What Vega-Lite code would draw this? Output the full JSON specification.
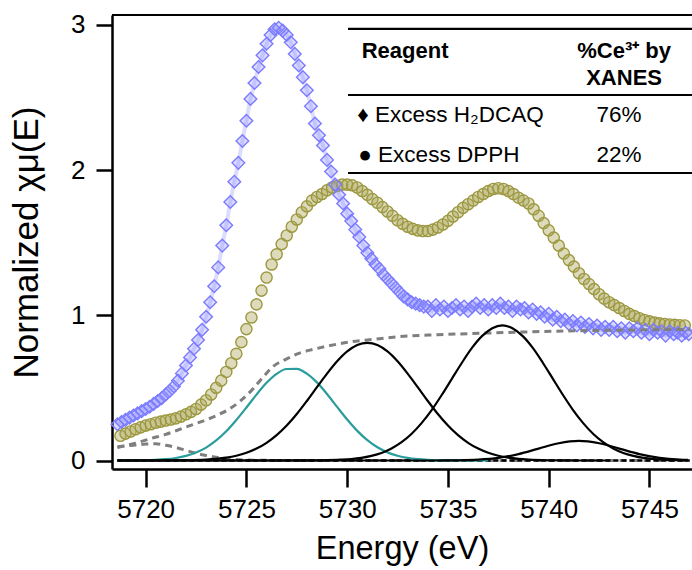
{
"$schema": "https://vega.github.io/schema/vega-lite/v6.json",
"width": 580, "height": 454,
"autosize": {"type": "none"},
"padding": {"left": 112, "top": 15, "right": 0, "bottom": 101},
"background": "white",
"config": {"view": {"stroke": null}, "font": "Liberation Sans"},
"datasets": {
"blue": [
{"E":5718.6,"v":0.25},{"E":5718.8,"v":0.265},{"E":5719.0,"v":0.28},{"E":5719.2,"v":0.295},{"E":5719.4,"v":0.31},{"E":5719.6,"v":0.325},{"E":5719.8,"v":0.34},{"E":5720.0,"v":0.355},{"E":5720.2,"v":0.37},{"E":5720.4,"v":0.39},{"E":5720.6,"v":0.41},{"E":5720.8,"v":0.43},{"E":5721.0,"v":0.455},{"E":5721.2,"v":0.48},{"E":5721.4,"v":0.51},{"E":5721.6,"v":0.55},{"E":5721.8,"v":0.60},{"E":5722.0,"v":0.655},{"E":5722.2,"v":0.71},{"E":5722.4,"v":0.77},{"E":5722.6,"v":0.83},{"E":5722.8,"v":0.90},{"E":5723.0,"v":0.99},{"E":5723.2,"v":1.09},{"E":5723.4,"v":1.20},{"E":5723.6,"v":1.33},{"E":5723.8,"v":1.48},{"E":5724.0,"v":1.62},{"E":5724.2,"v":1.78},{"E":5724.4,"v":1.92},{"E":5724.6,"v":2.05},{"E":5724.8,"v":2.20},{"E":5725.0,"v":2.34},{"E":5725.2,"v":2.49},{"E":5725.4,"v":2.60},{"E":5725.6,"v":2.71},{"E":5725.8,"v":2.79},{"E":5726.0,"v":2.87},{"E":5726.2,"v":2.93},{"E":5726.4,"v":2.97},{"E":5726.6,"v":2.98},{"E":5726.8,"v":2.96},{"E":5727.0,"v":2.93},{"E":5727.2,"v":2.88},{"E":5727.4,"v":2.80},{"E":5727.6,"v":2.72},{"E":5727.8,"v":2.64},{"E":5728.0,"v":2.55},{"E":5728.2,"v":2.44},{"E":5728.4,"v":2.32},{"E":5728.6,"v":2.24},{"E":5728.8,"v":2.17},{"E":5729.0,"v":2.07},{"E":5729.2,"v":1.99},{"E":5729.4,"v":1.90},{"E":5729.6,"v":1.83},{"E":5729.8,"v":1.77},{"E":5730.0,"v":1.70},{"E":5730.2,"v":1.65},{"E":5730.4,"v":1.59},{"E":5730.6,"v":1.54},{"E":5730.8,"v":1.48},{"E":5731.0,"v":1.43},{"E":5731.2,"v":1.39},{"E":5731.4,"v":1.35},{"E":5731.6,"v":1.32},{"E":5731.8,"v":1.28},{"E":5732.0,"v":1.25},{"E":5732.2,"v":1.22},{"E":5732.4,"v":1.19},{"E":5732.6,"v":1.16},{"E":5732.8,"v":1.13},{"E":5733.0,"v":1.11},{"E":5733.2,"v":1.09},{"E":5733.4,"v":1.08},{"E":5733.6,"v":1.07},{"E":5733.8,"v":1.06},
{"E":5734.0,"v":1.06},{"E":5734.2,"v":1.03},{"E":5734.4,"v":1.07},{"E":5734.6,"v":1.04},{"E":5734.8,"v":1.06},{"E":5735.0,"v":1.03},{"E":5735.2,"v":1.05},{"E":5735.4,"v":1.07},{"E":5735.6,"v":1.04},{"E":5735.8,"v":1.06},{"E":5736.0,"v":1.03},{"E":5736.2,"v":1.06},{"E":5736.4,"v":1.08},{"E":5736.6,"v":1.05},{"E":5736.8,"v":1.07},{"E":5737.0,"v":1.04},{"E":5737.2,"v":1.07},{"E":5737.4,"v":1.05},{"E":5737.6,"v":1.08},{"E":5737.8,"v":1.05},{"E":5738.0,"v":1.06},{"E":5738.2,"v":1.03},{"E":5738.4,"v":1.06},{"E":5738.6,"v":1.04},{"E":5738.8,"v":1.05},{"E":5739.0,"v":1.02},{"E":5739.2,"v":1.04},{"E":5739.4,"v":1.01},{"E":5739.6,"v":1.02},{"E":5739.8,"v":0.99},{"E":5740.0,"v":1.01},{"E":5740.2,"v":0.97},{"E":5740.4,"v":0.99},{"E":5740.6,"v":0.96},{"E":5740.8,"v":0.97},{"E":5741.0,"v":0.94},{"E":5741.2,"v":0.96},{"E":5741.4,"v":0.93},{"E":5741.6,"v":0.95},{"E":5741.8,"v":0.92},{"E":5742.0,"v":0.94},{"E":5742.2,"v":0.91},{"E":5742.4,"v":0.93},{"E":5742.6,"v":0.90},{"E":5742.8,"v":0.92},{"E":5743.0,"v":0.90},{"E":5743.2,"v":0.92},{"E":5743.4,"v":0.89},{"E":5743.6,"v":0.91},{"E":5743.8,"v":0.88},{"E":5744.0,"v":0.91},{"E":5744.2,"v":0.89},{"E":5744.4,"v":0.91},{"E":5744.6,"v":0.88},{"E":5744.8,"v":0.90},{"E":5745.0,"v":0.87},{"E":5745.2,"v":0.90},{"E":5745.4,"v":0.88},{"E":5745.6,"v":0.89},{"E":5745.8,"v":0.86},{"E":5746.0,"v":0.89},{"E":5746.2,"v":0.87},{"E":5746.4,"v":0.88},{"E":5746.6,"v":0.86},{"E":5746.8,"v":0.88},{"E":5746.95,"v":0.87}
],
"olive": [
{"E":5718.75,"v":0.17},{"E":5719.0,"v":0.185},{"E":5719.25,"v":0.2},{"E":5719.5,"v":0.215},{"E":5719.75,"v":0.228},{"E":5720.0,"v":0.24},{"E":5720.25,"v":0.25},{"E":5720.5,"v":0.26},{"E":5720.75,"v":0.268},{"E":5721.0,"v":0.275},{"E":5721.25,"v":0.282},{"E":5721.5,"v":0.29},{"E":5721.75,"v":0.302},{"E":5722.0,"v":0.318},{"E":5722.25,"v":0.335},{"E":5722.5,"v":0.355},{"E":5722.75,"v":0.385},{"E":5723.0,"v":0.415},{"E":5723.25,"v":0.455},{"E":5723.5,"v":0.5},{"E":5723.75,"v":0.55},{"E":5724.0,"v":0.61},{"E":5724.25,"v":0.67},{"E":5724.5,"v":0.735},{"E":5724.75,"v":0.815},{"E":5725.0,"v":0.905},{"E":5725.25,"v":0.985},{"E":5725.5,"v":1.075},{"E":5725.75,"v":1.17},{"E":5726.0,"v":1.26},{"E":5726.25,"v":1.35},{"E":5726.5,"v":1.42},{"E":5726.75,"v":1.49},{"E":5727.0,"v":1.55},{"E":5727.25,"v":1.61},{"E":5727.5,"v":1.66},{"E":5727.75,"v":1.71},{"E":5728.0,"v":1.75},{"E":5728.25,"v":1.79},{"E":5728.5,"v":1.815},{"E":5728.75,"v":1.835},{"E":5729.0,"v":1.86},{"E":5729.25,"v":1.88},{"E":5729.5,"v":1.89},{"E":5729.75,"v":1.9},{"E":5730.0,"v":1.9},{"E":5730.25,"v":1.895},{"E":5730.5,"v":1.88},{"E":5730.75,"v":1.855},{"E":5731.0,"v":1.83},{"E":5731.25,"v":1.8},{"E":5731.5,"v":1.775},{"E":5731.75,"v":1.745},{"E":5732.0,"v":1.715},{"E":5732.25,"v":1.685},{"E":5732.5,"v":1.655},{"E":5732.75,"v":1.63},{"E":5733.0,"v":1.61},{"E":5733.25,"v":1.595},{"E":5733.5,"v":1.585},{"E":5733.75,"v":1.58},{"E":5734.0,"v":1.58},{"E":5734.25,"v":1.59},{"E":5734.5,"v":1.605},{"E":5734.75,"v":1.625},{"E":5735.0,"v":1.65},{"E":5735.25,"v":1.68},{"E":5735.5,"v":1.71},{"E":5735.75,"v":1.74},{"E":5736.0,"v":1.765},{"E":5736.25,"v":1.79},{"E":5736.5,"v":1.815},{"E":5736.75,"v":1.835},{"E":5737.0,"v":1.855},{"E":5737.25,"v":1.87},{"E":5737.5,"v":1.875},{"E":5737.75,"v":1.87},{"E":5738.0,"v":1.855},{"E":5738.25,"v":1.835},{"E":5738.5,"v":1.81},{"E":5738.75,"v":1.79},{"E":5739.0,"v":1.77},{"E":5739.25,"v":1.73},{"E":5739.5,"v":1.685},{"E":5739.75,"v":1.635},{"E":5740.0,"v":1.585},{"E":5740.25,"v":1.535},{"E":5740.5,"v":1.48},{"E":5740.75,"v":1.425},{"E":5741.0,"v":1.38},{"E":5741.25,"v":1.335},{"E":5741.5,"v":1.29},{"E":5741.75,"v":1.25},{"E":5742.0,"v":1.215},{"E":5742.25,"v":1.18},{"E":5742.5,"v":1.145},{"E":5742.75,"v":1.115},{"E":5743.0,"v":1.09},{"E":5743.25,"v":1.07},{"E":5743.5,"v":1.05},{"E":5743.75,"v":1.03},{"E":5744.0,"v":1.01},{"E":5744.25,"v":0.995},{"E":5744.5,"v":0.98},{"E":5744.75,"v":0.968},{"E":5745.0,"v":0.958},{"E":5745.25,"v":0.95},{"E":5745.5,"v":0.945},{"E":5745.75,"v":0.94},{"E":5746.0,"v":0.937},{"E":5746.25,"v":0.934},{"E":5746.5,"v":0.932},{"E":5746.75,"v":0.93}
],
"fits": [
{"c":"step","E":5718.6,"v":0.09},{"c":"step","E":5719.5,"v":0.12},{"c":"step","E":5720.3,"v":0.153},{"c":"step","E":5721.0,"v":0.18},{"c":"step","E":5721.6,"v":0.21},{"c":"step","E":5722.3,"v":0.245},{"c":"step","E":5723.0,"v":0.28},{"c":"step","E":5723.6,"v":0.315},{"c":"step","E":5724.1,"v":0.35},{"c":"step","E":5724.7,"v":0.41},{"c":"step","E":5725.3,"v":0.49},{"c":"step","E":5725.8,"v":0.57},{"c":"step","E":5726.3,"v":0.645},{"c":"step","E":5727.0,"v":0.7},{"c":"step","E":5727.6,"v":0.738},{"c":"step","E":5728.3,"v":0.765},{"c":"step","E":5728.9,"v":0.784},{"c":"step","E":5730.2,"v":0.818},{"c":"step","E":5731.0,"v":0.83},{"c":"step","E":5732.6,"v":0.853},{"c":"step","E":5734.5,"v":0.866},{"c":"step","E":5736.5,"v":0.876},{"c":"step","E":5739.0,"v":0.886},{"c":"step","E":5742.0,"v":0.895},{"c":"step","E":5745.0,"v":0.9},{"c":"step","E":5747.0,"v":0.903},
{"c":"pre","E":5718.6,"v":0.095},{"c":"pre","E":5719.0,"v":0.1},{"c":"pre","E":5719.5,"v":0.107},{"c":"pre","E":5720.0,"v":0.113},{"c":"pre","E":5720.5,"v":0.115},{"c":"pre","E":5721.0,"v":0.105},{"c":"pre","E":5721.5,"v":0.09},{"c":"pre","E":5722.0,"v":0.07},{"c":"pre","E":5722.5,"v":0.05},{"c":"pre","E":5723.0,"v":0.035},{"c":"pre","E":5723.5,"v":0.022},{"c":"pre","E":5724.0,"v":0.013},{"c":"pre","E":5724.5,"v":0.007},{"c":"pre","E":5725.0,"v":0.003},{"c":"pre","E":5726.0,"v":0.001},{"c":"pre","E":5727.0,"v":0},{"c":"pre","E":5747.0,"v":0},
{"c":"base","E":5718.6,"v":0},{"c":"base","E":5747.0,"v":0},
{"c":"teal","E":5718.6,"v":0.0002},{"c":"teal","E":5719.5,"v":0.001},{"c":"teal","E":5720.0,"v":0.002},{"c":"teal","E":5720.5,"v":0.0045},{"c":"teal","E":5721.0,"v":0.009},{"c":"teal","E":5721.5,"v":0.0175},{"c":"teal","E":5722.0,"v":0.032},{"c":"teal","E":5722.5,"v":0.055},{"c":"teal","E":5723.0,"v":0.089},{"c":"teal","E":5723.5,"v":0.138},{"c":"teal","E":5724.0,"v":0.201},{"c":"teal","E":5724.5,"v":0.279},{"c":"teal","E":5725.0,"v":0.365},{"c":"teal","E":5725.5,"v":0.454},{"c":"teal","E":5726.0,"v":0.535},{"c":"teal","E":5726.5,"v":0.597},{"c":"teal","E":5727.0,"v":0.63},{"c":"teal","E":5727.5,"v":0.631},{"c":"teal","E":5728.0,"v":0.598},{"c":"teal","E":5728.5,"v":0.538},{"c":"teal","E":5729.0,"v":0.458},{"c":"teal","E":5729.5,"v":0.369},{"c":"teal","E":5730.0,"v":0.282},{"c":"teal","E":5730.5,"v":0.204},{"c":"teal","E":5731.0,"v":0.14},{"c":"teal","E":5731.5,"v":0.091},{"c":"teal","E":5732.0,"v":0.056},{"c":"teal","E":5732.5,"v":0.033},{"c":"teal","E":5733.0,"v":0.018},{"c":"teal","E":5733.5,"v":0.0094},{"c":"teal","E":5734.0,"v":0.0047},{"c":"teal","E":5735.0,"v":0.001},{"c":"teal","E":5736.0,"v":0.0002},{"c":"teal","E":5737.0,"v":0},
{"c":"g1","E":5718.6,"v":0},{"c":"g1","E":5720.0,"v":0.0001},{"c":"g1","E":5721.0,"v":0.0004},{"c":"g1","E":5722.0,"v":0.0018},{"c":"g1","E":5723.0,"v":0.0064},{"c":"g1","E":5723.5,"v":0.0115},{"c":"g1","E":5724.0,"v":0.0199},{"c":"g1","E":5724.5,"v":0.033},{"c":"g1","E":5725.0,"v":0.053},{"c":"g1","E":5725.5,"v":0.082},{"c":"g1","E":5726.0,"v":0.122},{"c":"g1","E":5726.5,"v":0.175},{"c":"g1","E":5727.0,"v":0.241},{"c":"g1","E":5727.5,"v":0.32},{"c":"g1","E":5728.0,"v":0.41},{"c":"g1","E":5728.5,"v":0.505},{"c":"g1","E":5729.0,"v":0.598},{"c":"g1","E":5729.5,"v":0.683},{"c":"g1","E":5730.0,"v":0.751},{"c":"g1","E":5730.5,"v":0.795},{"c":"g1","E":5731.0,"v":0.81},{"c":"g1","E":5731.5,"v":0.795},{"c":"g1","E":5732.0,"v":0.751},{"c":"g1","E":5732.5,"v":0.683},{"c":"g1","E":5733.0,"v":0.598},{"c":"g1","E":5733.5,"v":0.505},{"c":"g1","E":5734.0,"v":0.41},{"c":"g1","E":5734.5,"v":0.32},{"c":"g1","E":5735.0,"v":0.241},{"c":"g1","E":5735.5,"v":0.175},{"c":"g1","E":5736.0,"v":0.122},{"c":"g1","E":5736.5,"v":0.082},{"c":"g1","E":5737.0,"v":0.053},{"c":"g1","E":5737.5,"v":0.033},{"c":"g1","E":5738.0,"v":0.0199},{"c":"g1","E":5738.5,"v":0.0115},{"c":"g1","E":5739.0,"v":0.0064},{"c":"g1","E":5740.0,"v":0.0018},{"c":"g1","E":5741.0,"v":0.0004},{"c":"g1","E":5742.0,"v":0.0001},{"c":"g1","E":5743.0,"v":0},
{"c":"g2","E":5718.6,"v":0},{"c":"g2","E":5726.0,"v":0},{"c":"g2","E":5727.7,"v":0.0003},{"c":"g2","E":5728.7,"v":0.0014},{"c":"g2","E":5729.7,"v":0.0056},{"c":"g2","E":5730.2,"v":0.01},{"c":"g2","E":5730.7,"v":0.018},{"c":"g2","E":5731.2,"v":0.032},{"c":"g2","E":5731.7,"v":0.052},{"c":"g2","E":5732.2,"v":0.083},{"c":"g2","E":5732.7,"v":0.126},{"c":"g2","E":5733.2,"v":0.184},{"c":"g2","E":5733.7,"v":0.259},{"c":"g2","E":5734.2,"v":0.349},{"c":"g2","E":5734.7,"v":0.453},{"c":"g2","E":5735.2,"v":0.564},{"c":"g2","E":5735.7,"v":0.675},{"c":"g2","E":5736.2,"v":0.777},{"c":"g2","E":5736.7,"v":0.858},{"c":"g2","E":5737.2,"v":0.911},{"c":"g2","E":5737.7,"v":0.93},{"c":"g2","E":5738.2,"v":0.911},{"c":"g2","E":5738.7,"v":0.858},{"c":"g2","E":5739.2,"v":0.777},{"c":"g2","E":5739.7,"v":0.675},{"c":"g2","E":5740.2,"v":0.564},{"c":"g2","E":5740.7,"v":0.453},{"c":"g2","E":5741.2,"v":0.349},{"c":"g2","E":5741.7,"v":0.259},{"c":"g2","E":5742.2,"v":0.184},{"c":"g2","E":5742.7,"v":0.126},{"c":"g2","E":5743.2,"v":0.083},{"c":"g2","E":5743.7,"v":0.052},{"c":"g2","E":5744.2,"v":0.032},{"c":"g2","E":5744.7,"v":0.018},{"c":"g2","E":5745.2,"v":0.01},{"c":"g2","E":5745.7,"v":0.0056},{"c":"g2","E":5746.9,"v":0.0007},
{"c":"g3","E":5718.6,"v":0},{"c":"g3","E":5733.5,"v":0},{"c":"g3","E":5734.5,"v":0.0002},{"c":"g3","E":5735.5,"v":0.0015},{"c":"g3","E":5736.5,"v":0.006},{"c":"g3","E":5737.5,"v":0.018},{"c":"g3","E":5738.5,"v":0.044},{"c":"g3","E":5739.5,"v":0.082},{"c":"g3","E":5740.5,"v":0.119},{"c":"g3","E":5741.5,"v":0.135},{"c":"g3","E":5742.5,"v":0.119},{"c":"g3","E":5743.5,"v":0.082},{"c":"g3","E":5744.5,"v":0.044},{"c":"g3","E":5745.5,"v":0.018},{"c":"g3","E":5746.5,"v":0.006},{"c":"g3","E":5746.9,"v":0.004}
],
"tlines": [
{"E":5718.33,"E2":5747.11,"v":3.068},
{"E":5730.04,"E2":5747.11,"v":2.972},
{"E":5730.04,"E2":5747.11,"v":2.517},
{"E":5730.04,"E2":5747.11,"v":1.98}
],
"hdrL": [{"E":5730.72,"v":2.77,"t":"Reagent"}],
"hdrC": [{"E":5743.74,"v":2.77,"t":"%Ce³⁺ by"},{"E":5743.74,"v":2.586,"t":"XANES"}],
"rowL": [{"E":5730.5,"v":2.333,"t":"♦ Excess H₂DCAQ"},{"E":5730.55,"v":2.058,"t":"● Excess DPPH"}],
"rowC": [{"E":5743.49,"v":2.333,"t":"76%"},{"E":5743.49,"v":2.058,"t":"22%"}]
},
"encoding": {
"x": {"field": "E", "type": "quantitative",
 "scale": {"domain": [5718.33, 5747.11], "nice": false, "zero": false},
 "axis": {"title": "Energy (eV)", "values": [5720, 5725, 5730, 5735, 5740, 5745], "format": "d", "grid": false,
  "tickSize": 18, "tickWidth": 2.5, "tickColor": "black", "domainWidth": 2.5, "domainColor": "black",
  "labelFont": "Liberation Sans", "labelFontSize": 26, "labelColor": "black", "labelPadding": 9, "labelFlush": false,
  "titleFont": "Liberation Sans", "titleFontSize": 32.5, "titleFontWeight": "normal", "titleColor": "black", "titlePadding": 10}},
"y": {"field": "v", "type": "quantitative",
 "scale": {"domain": [-0.0585, 3.068], "nice": false, "zero": false},
 "axis": {"title": "Normalized χμ(E)", "values": [0, 1, 2, 3], "grid": false,
  "tickSize": 16, "tickWidth": 2.5, "tickColor": "black", "domainWidth": 2.5, "domainColor": "black",
  "labelFont": "Liberation Sans", "labelFontSize": 26, "labelColor": "black", "labelPadding": 11,
  "titleFont": "Liberation Sans", "titleFontSize": 35, "titleFontWeight": "normal", "titleColor": "black", "titlePadding": 26}}
},
"layer": [
{"data": {"name": "blue"}, "mark": {"type": "line", "color": "#8c8cff", "strokeWidth": 4, "opacity": 0.3}},
{"data": {"name": "olive"}, "mark": {"type": "point", "shape": "circle", "size": 125, "filled": true, "fill": "#aaa655", "fillOpacity": 0.4, "stroke": "#9c9840", "strokeWidth": 1.4, "opacity": 1}},
{"data": {"name": "blue"}, "mark": {"type": "point", "shape": "diamond", "size": 160, "filled": true, "fill": "#8c8cff", "fillOpacity": 0.3, "stroke": "#7b7bff", "strokeWidth": 1.4, "opacity": 1}},
{"data": {"name": "fits"}, "transform": [{"filter": {"field": "c", "oneOf": ["step", "pre"]}}],
 "mark": {"type": "line", "color": "#7f7f7f", "strokeWidth": 3, "strokeDash": [7, 5], "interpolate": "monotone"},
 "encoding": {"detail": {"field": "c"}}},
{"data": {"name": "fits"}, "transform": [{"filter": {"field": "c", "equal": "base"}}],
 "mark": {"type": "line", "color": "black", "strokeWidth": 2.5, "strokeDash": [5, 3]}},
{"data": {"name": "fits"}, "transform": [{"filter": {"field": "c", "equal": "teal"}}],
 "mark": {"type": "line", "color": "#2b9c9c", "strokeWidth": 2.2, "interpolate": "monotone"}},
{"data": {"name": "fits"}, "transform": [{"filter": {"field": "c", "oneOf": ["g1", "g2", "g3"]}}],
 "mark": {"type": "line", "color": "black", "strokeWidth": 2.2, "interpolate": "monotone"},
 "encoding": {"detail": {"field": "c"}}},
{"data": {"name": "tlines"}, "mark": {"type": "rule", "color": "black", "strokeWidth": 2.2},
 "encoding": {"x2": {"field": "E2"}}},
{"data": {"name": "hdrL"}, "mark": {"type": "text", "font": "Liberation Sans", "fontSize": 22, "fontWeight": "bold", "align": "left", "baseline": "alphabetic", "color": "black"},
 "encoding": {"text": {"field": "t"}}},
{"data": {"name": "hdrC"}, "mark": {"type": "text", "font": "Liberation Sans", "fontSize": 22, "fontWeight": "bold", "align": "center", "baseline": "alphabetic", "color": "black"},
 "encoding": {"text": {"field": "t"}}},
{"data": {"name": "rowL"}, "mark": {"type": "text", "font": "Liberation Sans", "fontSize": 22.5, "align": "left", "baseline": "alphabetic", "color": "black"},
 "encoding": {"text": {"field": "t"}}},
{"data": {"name": "rowC"}, "mark": {"type": "text", "font": "Liberation Sans", "fontSize": 22.5, "align": "center", "baseline": "alphabetic", "color": "black"},
 "encoding": {"text": {"field": "t"}}}
]
}
